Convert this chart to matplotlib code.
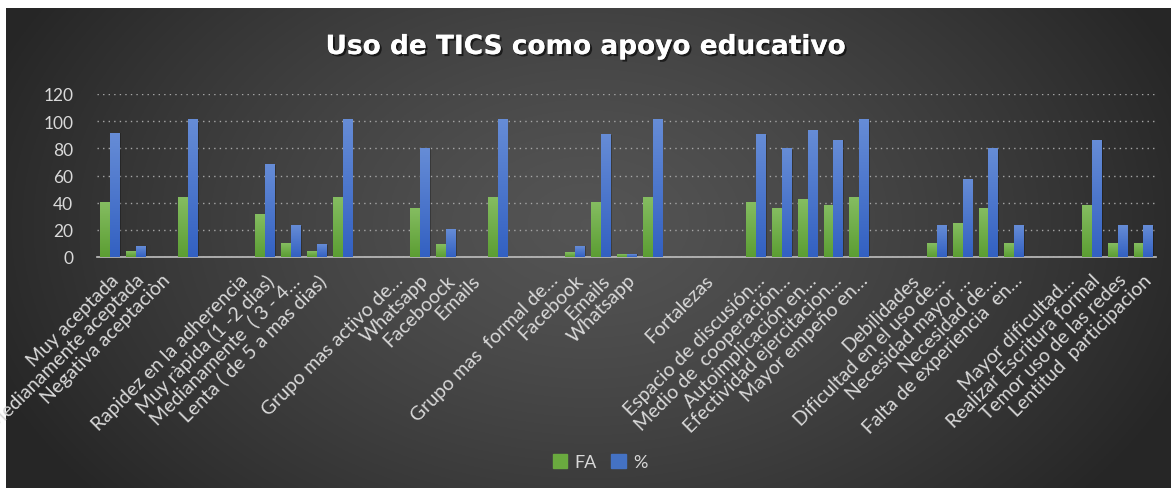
import numpy as np
import matplotlib.pyplot as plt
import matplotlib.patheffects as pe
from matplotlib.patches import Patch

categories = ['Muy aceptada', 'Medianamente aceptada', 'Negativa aceptaciòn', '', '',
              'Rapidez en la adherencia', 'Muy ràpida (1 -2 dias)', 'Medianamente  ( 3 - 4…',
              'Lenta ( de 5 a mas dias)', '', '',
              'Grupo mas activo de…', 'Whatsapp', 'Faceboock', 'Emails', '', '',
              'Grupo mas  formal de…', 'Facebook', 'Emails', 'Whatsapp', '', '',
              'Fortalezas', '', 'Espacio de discusión…', 'Medio de  cooperación…',
              'Autoimplicación en…', 'Efectividad ejercitacion…', 'Mayor empeño en…', '',
              'Debilidades', 'Dificultad en el uso de…', 'Necesidad mayor …', 'Necesidad de…',
              'Falta de experiencia  en…', '',
              'Mayor dificultad…', 'Realizar Escritura formal', 'Temor uso de las redes',
              'Lentitud  participacion']

fa = [40, 4, 0, 44, 0,
      0, 31, 10, 4, 44, 0,
      0, 36, 9, 0, 44, 0,
      0, 3, 40, 2, 44, 0,
      0, 0, 40, 36, 42, 38, 44, 0,
      0, 10, 25, 36, 10, 0,
      0, 38, 10, 10]

pct = [91, 8, 0, 101, 0,
       0, 68, 23, 9, 101, 0,
       0, 80, 20, 0, 101, 0,
       0, 8, 90, 2, 101, 0,
       0, 0, 90, 80, 93, 86, 101, 0,
       0, 23, 57, 80, 23, 0,
       0, 86, 23, 23]

text_col = '#d9d9d9'
plt.rcParams['font.family'] = ['Lato', 'DejaVu Sans']

fig = plt.figure(figsize=(11.71, 4.89), dpi=100, facecolor='white')

# dark radial background
bg = fig.add_axes([6 / 1171, 0, 1 - 6 / 1171, 1 - 9 / 489], zorder=-10)
yy, xx = np.mgrid[0:1:300j, 0:1:700j]
r = np.sqrt(((xx - 0.5) / 0.55) ** 2 + ((yy - 0.45) / 0.9) ** 2)
r = np.clip(r, 0, 1)
v = 0.33 - (0.33 - 0.15) * r ** 1.3
bg.imshow(np.dstack([v, v, v]), aspect='auto', extent=[0, 1, 0, 1])
bg.axis('off')

ax = fig.add_axes([97 / 1171, 1 - 258 / 489, (1156 - 97) / 1171, (258 - 95) / 489])
ax.patch.set_alpha(0)

x = np.arange(len(categories))
w = 0.36


def grad_bars(xs, heights, top, bottom):
    bars = ax.bar(xs, heights, w, color='none', zorder=3)
    g = np.linspace(0, 1, 64).reshape(-1, 1)
    cols = np.array(top) * (1 - g[..., None]) + np.array(bottom) * g[..., None]
    for b in bars:
        h = b.get_height()
        if h <= 0:
            continue
        bx = b.get_x()
        # soft shadow to the right of the bar
        ax.bar(bx + w / 2 + 0.06, h, w, color='black', alpha=0.25, zorder=2)
        ax.imshow(cols, extent=[bx, bx + w, 0, h], aspect='auto',
                  origin='upper', zorder=3, clip_path=b, clip_on=True)
    return bars


grad_bars(x - 0.19, fa, (0.52, 0.74, 0.38), (0.36, 0.62, 0.20))
grad_bars(x + 0.19, pct, (0.40, 0.55, 0.84), (0.20, 0.38, 0.76))

ax.set_xlim(-0.5, len(categories) - 0.5)
ax.set_ylim(0, 120)
ax.set_yticks(range(0, 121, 20))
ax.yaxis.grid(True, linestyle=(0, (1, 3)), color='#a6a6a6', linewidth=1, zorder=1)
for s in ['top', 'right', 'left']:
    ax.spines[s].set_visible(False)
ax.spines['bottom'].set_color('#bfbfbf')
ax.spines['bottom'].set_linewidth(1.2)
ax.tick_params(axis='y', length=0, pad=17, labelsize=12.5, labelcolor=text_col)
ax.tick_params(axis='x', length=0, pad=10, labelsize=14, labelcolor=text_col)
ax.set_xticks(x)
ax.set_xticklabels(categories, rotation=45, ha='right', va='top',
                   rotation_mode='anchor')

fig.text(0.5, 1 - 48 / 489, 'Uso de TICS como apoyo educativo', ha='center', va='center',
         fontsize=19, fontweight='bold', color='white', family='DejaVu Sans',
         path_effects=[pe.withSimplePatchShadow(offset=(1.5, -1.5), shadow_rgbFace='black',
                                                alpha=0.6), pe.Normal()])

handles = [Patch(color='#6aaa3f', label='FA'), Patch(color='#4472c4', label='%')]
fig.legend(handles=handles, loc='center', bbox_to_anchor=(600 / 1171, 1 - 463 / 489),
           ncol=2, frameon=False, fontsize=13, labelcolor=text_col,
           handlelength=0.8, handleheight=0.8, handletextpad=0.4, columnspacing=0.8)

fig.savefig('out.png', dpi=100, facecolor='white')
